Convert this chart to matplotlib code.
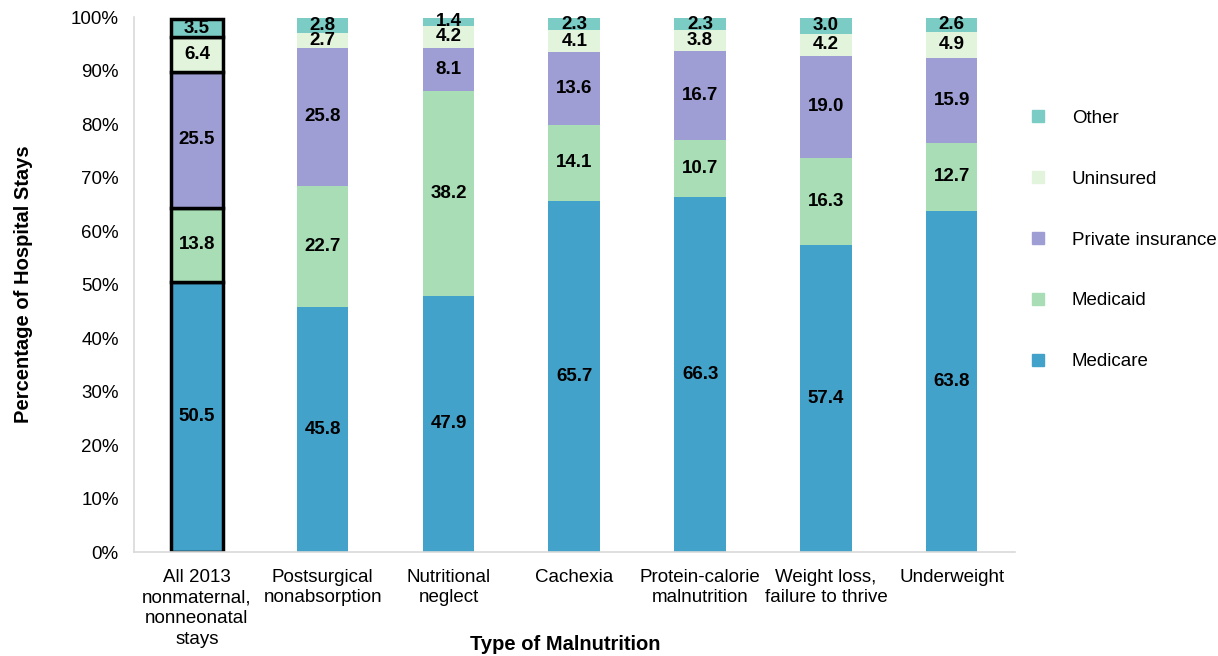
import matplotlib.pyplot as plt
import numpy as np
from matplotlib.patches import Patch

plt.rcParams['font.family'] = ['Liberation Sans', 'DejaVu Sans']

# payer shares (%) by type of malnutrition
categories = ['All 2013\nnonmaternal,\nnonneonatal\nstays', 'Postsurgical\nnonabsorption',
              'Nutritional\nneglect', 'Cachexia', 'Protein-calorie\nmalnutrition',
              'Weight loss,\nfailure to thrive', 'Underweight']
medicare = [50.5, 45.8, 47.9, 65.7, 66.3, 57.4, 63.8]
medicaid = [13.8, 22.7, 38.2, 14.1, 10.7, 16.3, 12.7]
private = [25.5, 25.8, 8.1, 13.6, 16.7, 19.0, 15.9]
uninsured = [6.4, 2.7, 4.2, 4.1, 3.8, 4.2, 4.9]
other = [3.5, 2.8, 1.4, 2.3, 2.3, 3.0, 2.6]

series = [('Medicare', medicare, '#43a2ca'),
          ('Medicaid', medicaid, '#a8ddb5'),
          ('Private insurance', private, '#9e9ed4'),
          ('Uninsured', uninsured, '#e2f4dc'),
          ('Other', other, '#7bccc4')]

fig = plt.figure(figsize=(12.18, 6.56), dpi=100)
ax = fig.add_axes([0.110, 0.1585, 0.723, 0.8155])

x = np.arange(len(categories))
width = 0.41
bottom = np.zeros(len(categories))
for name, vals, color in series:
    vals = np.array(vals)
    bars = ax.bar(x, vals, width, bottom=bottom, color=color, label=name)
    # outline the all-stays reference bar
    bars[0].set_edgecolor('black')
    bars[0].set_linewidth(2.5)
    for xi, b, v in zip(x, bottom, vals):
        ax.text(xi, b + v / 2, f'{v:.1f}', ha='center', va='center',
                fontsize=13.5, fontweight='bold', color='black')
    bottom += vals

ax.set_xlim(-0.5, len(categories) - 0.5)
ax.set_ylim(0, 100)
ax.set_yticks(np.arange(0, 101, 10))
ax.set_yticklabels([f'{t}%' for t in range(0, 101, 10)], fontsize=13.5)
ax.set_xticks(x)
ax.set_xticklabels(categories, fontsize=13.5, linespacing=1.29)
ax.tick_params(axis='y', length=0, pad=11)
ax.tick_params(axis='x', length=0, pad=12)

for side in ['top', 'right']:
    ax.spines[side].set_visible(False)
for side in ['left', 'bottom']:
    ax.spines[side].set_color('#d9d9d9')
    ax.spines[side].set_linewidth(1.2)

ax.set_xlabel('Type of Malnutrition', fontsize=14.5, fontweight='bold')
ax.xaxis.set_label_coords(0.49, -0.155)
ax.set_ylabel('Percentage of Hospital Stays', fontsize=14.5, fontweight='bold')
ax.yaxis.set_label_coords(-0.115, 0.5)

handles = [Patch(color=c, label=n) for n, _, c in series][::-1]
fig.legend(handles=handles, loc='center left', bbox_to_anchor=(0.84, 0.634),
           frameon=False, fontsize=13.5, labelspacing=2.34,
           handlelength=0.6, handleheight=0.6, handletextpad=1.5, borderpad=0)

fig.savefig('out.png', dpi=100)
